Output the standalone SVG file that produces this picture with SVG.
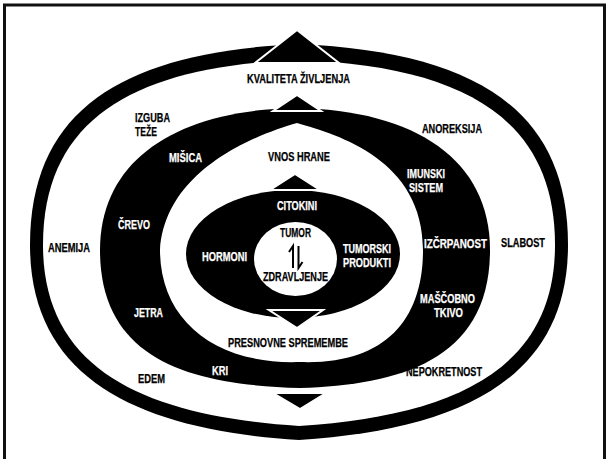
<svg xmlns="http://www.w3.org/2000/svg" width="610" height="459" viewBox="0 0 610 459">
<style>
text{font-family:"Liberation Sans",Arial,sans-serif;font-weight:bold;font-size:12px;fill:#000;stroke:#000;stroke-width:0.25}
text.w{fill:#fff;stroke:#fff}
.b{fill:#000}
.w{fill:#fff}
.tri{fill:#000;stroke:#fff;stroke-width:2;stroke-linejoin:miter}
</style>
<rect width="610" height="459" fill="#fff"/>
<path d="M4.5,470 V5 H604.5 V470" fill="none" stroke="#111" stroke-width="3"/>
<g id="outer-ring">
<path class="b" d="M299,44 C129,52 30,105 30,245 C30,380 140,430 299,440 C458,430 568,380 568,245 C568,105 469,52 299,44 Z"/>
<path class="w" d="M299,60 C140,66 43,115 43,245 C43,372 148,416 299,426 C450,416 555,372 555,245 C555,115 458,66 299,60 Z"/>
</g>
<g id="middle-ring">
<path class="b" d="M296,108 C176,110 100,160 100,250 C100,360 190,385 300,388 C400,385 490,360 490,250 C490,160 416,110 296,108 Z"/>
<path class="w" d="M297,123 C255,135 165,170 160,250 C160,320 215,365 300,362 C385,365 423,320 423,250 C423,160 339,135 297,123 Z"/>
</g>
<g id="inner-ring">
<ellipse class="b" cx="293" cy="254" rx="107" ry="64"/>
</g>
<g id="core">
<ellipse class="w" cx="295.5" cy="259" rx="41.5" ry="37"/>
</g>
<g id="connectors">
<polygon class="tri" points="297,30 339,63 255,63"/>
<polygon class="tri" points="297,95 321,111 273,111"/>
<polygon class="tri" points="295,174 320,190 270,190"/>
<polygon class="tri" points="269,310 323,310 297,328"/>
<polygon class="tri" points="273,393 326,393 300,409"/>
<path d="M293,268 V246 L289,252 M298.5,246 V268 L302.5,262" fill="none" stroke="#000" stroke-width="2"/>
</g>
<g id="labels">
<text x="247" y="83" textLength="103" lengthAdjust="spacingAndGlyphs">KVALITETA ŽIVLJENJA</text>
<text x="135" y="122" textLength="35" lengthAdjust="spacingAndGlyphs">IZGUBA</text>
<text x="135" y="136" textLength="22" lengthAdjust="spacingAndGlyphs">TEŽE</text>
<text x="422" y="133" textLength="60" lengthAdjust="spacingAndGlyphs">ANOREKSIJA</text>
<text class="w" x="169" y="162" textLength="33" lengthAdjust="spacingAndGlyphs">MIŠICA</text>
<text x="268" y="161" textLength="62" lengthAdjust="spacingAndGlyphs">VNOS HRANE</text>
<text class="w" x="407" y="178" textLength="38" lengthAdjust="spacingAndGlyphs">IMUNSKI</text>
<text class="w" x="409" y="192" textLength="34" lengthAdjust="spacingAndGlyphs">SISTEM</text>
<text class="w" x="118" y="229" textLength="32" lengthAdjust="spacingAndGlyphs">ČREVO</text>
<text class="w" x="277" y="210" textLength="40" lengthAdjust="spacingAndGlyphs">CITOKINI</text>
<text x="48" y="252" textLength="42" lengthAdjust="spacingAndGlyphs">ANEMIJA</text>
<text x="280" y="237" textLength="31" lengthAdjust="spacingAndGlyphs">TUMOR</text>
<text class="w" x="202" y="261" textLength="45" lengthAdjust="spacingAndGlyphs">HORMONI</text>
<text class="w" x="343" y="253" textLength="48" lengthAdjust="spacingAndGlyphs">TUMORSKI</text>
<text class="w" x="343" y="267" textLength="48" lengthAdjust="spacingAndGlyphs">PRODUKTI</text>
<text class="w" x="424" y="248" textLength="63" lengthAdjust="spacingAndGlyphs">IZČRPANOST</text>
<text x="501" y="247" textLength="44" lengthAdjust="spacingAndGlyphs">SLABOST</text>
<text x="263" y="281" textLength="65" lengthAdjust="spacingAndGlyphs">ZDRAVLJENJE</text>
<text class="w" x="420" y="303" textLength="55" lengthAdjust="spacingAndGlyphs">MAŠČOBNO</text>
<text class="w" x="434" y="317" textLength="29" lengthAdjust="spacingAndGlyphs">TKIVO</text>
<text class="w" x="134" y="317" textLength="29" lengthAdjust="spacingAndGlyphs">JETRA</text>
<text x="228" y="347" textLength="120" lengthAdjust="spacingAndGlyphs">PRESNOVNE SPREMEMBE</text>
<text class="w" x="212" y="375" textLength="16" lengthAdjust="spacingAndGlyphs">KRI</text>
<text x="138" y="383" textLength="27" lengthAdjust="spacingAndGlyphs">EDEM</text>
<text x="406" y="376" textLength="76" lengthAdjust="spacingAndGlyphs">NEPOKRETNOST</text>
</g>
</svg>
